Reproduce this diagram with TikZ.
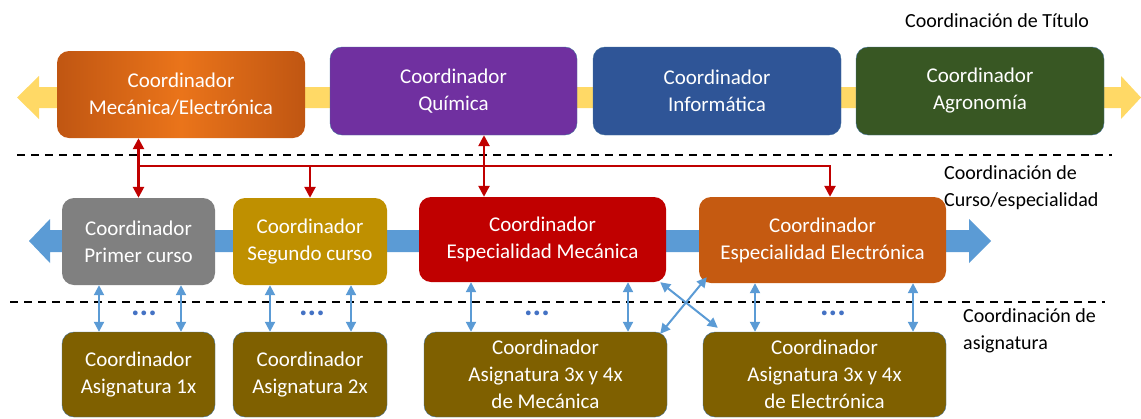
\documentclass[tikz,border=0pt]{standalone}
\usepackage{fontspec}
\setmainfont{Carlito}
\usetikzlibrary{arrows.meta}
\definecolor{mecel}{RGB}{192,86,18}
\definecolor{mecelc}{RGB}{234,116,26}
\definecolor{quim}{RGB}{112,48,160}
\definecolor{info}{RGB}{47,85,151}
\definecolor{agro}{RGB}{56,87,35}
\definecolor{edge}{RGB}{65,113,156}
\definecolor{yarrow}{RGB}{255,217,102}
\definecolor{barrow}{RGB}{91,155,213}
\definecolor{gris}{RGB}{128,128,128}
\definecolor{oro}{RGB}{191,144,0}
\definecolor{rojo}{RGB}{192,0,0}
\definecolor{naranja}{RGB}{197,90,17}
\definecolor{marron}{RGB}{127,96,0}
\definecolor{puntos}{RGB}{68,114,196}

\begin{document}
\begin{tikzpicture}[x=1pt, y=-1pt,
    box/.style={rounded corners=12pt, text=white, align=center, inner sep=0pt,
      font=\fontsize{21}{27}\selectfont},
    nivel/.style={anchor=west, align=left, inner sep=0pt,
      font=\fontsize{20}{27}\selectfont},
    puntos/.style={text=puntos, inner sep=0pt, font=\bfseries\fontsize{32}{32}\selectfont},
    corte/.style={dash pattern=on 8pt off 6pt, line width=1.8pt},
    redlink/.style={draw=rojo, line width=2.5pt, >={Triangle[length=11pt,width=11pt]}},
    bluelink/.style={draw=barrow, line width=2pt, >={Triangle[length=10pt,width=10pt]}}]
  \useasboundingbox (0,0) rectangle (1141,418);

  % big arrows behind the boxes
  \fill[yarrow] (17,97.5) -- (39,76) -- (39,87) -- (1121,87) -- (1121,76)
    -- (1141,97.5) -- (1121,119) -- (1121,108) -- (39,108) -- (39,119) -- cycle;
  \fill[barrow] (29,241) -- (50,219) -- (50,230) -- (969,230) -- (969,219)
    -- (991,241) -- (969,263) -- (969,252) -- (50,252) -- (50,263) -- cycle;

  \draw[corte] (17,155) -- (1112,155);
  \draw[corte] (10,302) -- (1105,302);

  {\tikzstyle{every node}=[box]
    % titulo
    \node[left color=mecel, right color=mecel, middle color=mecelc,
      minimum width=248pt, minimum height=87pt] (t0) at (181,94.5)
      {Coordinador\\Mecánica/Electrónica};
    \node[fill=quim, draw=edge, minimum width=247pt, minimum height=88pt] (t1)
      at (453.5,91) {Coordinador\\Química};
    \node[fill=info, draw=edge, minimum width=248pt, minimum height=88pt] (t2)
      at (717,91) {Coordinador\\Informática};
    \node[fill=agro, draw=edge, minimum width=248pt, minimum height=88pt] (t3)
      at (980,91) {Coordinador\\Agronomía};

    % curso / especialidad
    \node[fill=gris, minimum width=153pt, minimum height=87pt] (c0)
      at (138.5,241.5) {Coordinador\\Primer curso};
    \node[fill=oro, minimum width=154pt, minimum height=87pt] (c1)
      at (310,241.5) {Coordinador\\Segundo curso};
    \node[fill=rojo, minimum width=247pt, minimum height=85pt] (c2)
      at (542.5,239.5) {Coordinador\\Especialidad Mecánica};
    \node[fill=naranja, minimum width=247pt, minimum height=86pt] (c3)
      at (822.5,240) {Coordinador\\Especialidad Electrónica};

    % asignatura
    \node[fill=marron, draw=edge, minimum width=153pt, minimum height=85pt] (a0)
      at (138.5,374.5) {Coordinador\\Asignatura 1x};
    \node[fill=marron, draw=edge, minimum width=154pt, minimum height=85pt] (a1)
      at (310,374.5) {Coordinador\\Asignatura 2x};
    \node[fill=marron, draw=edge, minimum width=243pt, minimum height=85pt] (a2)
      at (545.5,374.5) {Coordinador\\Asignatura 3x y 4x\\de Mecánica};
    \node[fill=marron, draw=edge, minimum width=243pt, minimum height=85pt] (a3)
      at (824.5,374.5) {Coordinador\\Asignatura 3x y 4x\\de Electrónica};
  }

  \node[nivel] (n0) at (905,21) {Coordinación de Título};
  \node[nivel] (n1) at (944,188) {Coordinación de\\Curso/especialidad};
  \node[nivel] (n2) at (963,331) {Coordinación de\\asignatura};

  \foreach \x [count=\k from 0] in {144, 312, 537, 833}
  {
    \node[puntos] (p\k) at (\x,313) {...};
  }

  \coordinate (bus) at (0,166);
  \coordinate (r2) at (484,0);
  \coordinate (r3) at (830,0);

  \draw[redlink, <->] (t0.south -| c0.north) -- (c0.north);
  \draw[redlink, <->] (t1.south -| r2) -- (c2.north -| r2);
  \draw[redlink, ->] (bus -| c0.north) -- (bus -| r3) -- (c3.north -| r3);
  \draw[redlink, ->] (bus -| c1.north) -- (c1.north);

  \foreach \x/\u/\d in {99/c0/a0, 181/c0/a0, 270/c1/a1, 351/c1/a1,
                        471/c2/a2, 628/c2/a2, 755/c3/a3, 913/c3/a3}
  {
    \coordinate (v) at (\x,0);
    \draw[bluelink, <->] (\u.south -| v) -- (\d.north -| v);
  }

  \draw[bluelink, <->] ([xshift=-6pt]c2.south east)
    -- ([xshift=15pt, yshift=4pt]a3.north west);
  \draw[bluelink, <->] ([xshift=8pt, yshift=6pt]c3.south west)
    -- ([xshift=-7pt, yshift=-2pt]a2.north east);
\end{tikzpicture}
\end{document}
